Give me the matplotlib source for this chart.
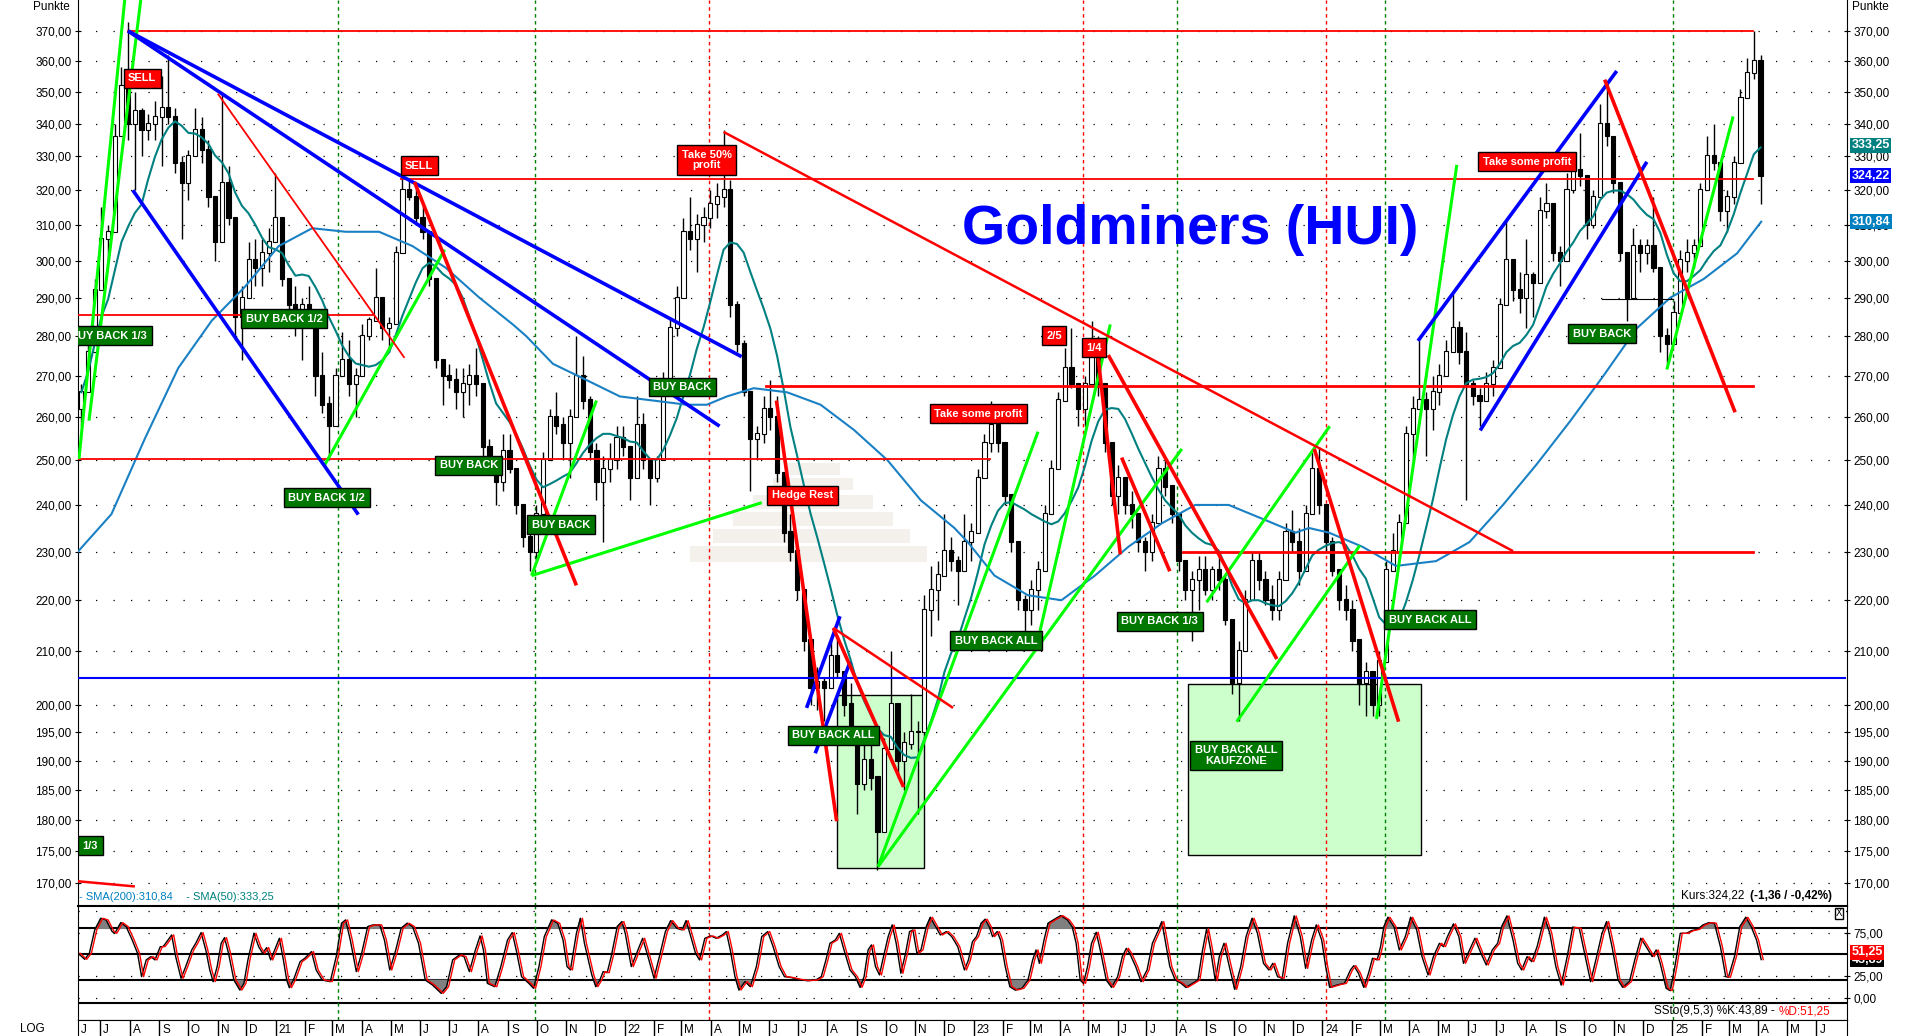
import matplotlib
matplotlib.use("Agg")
import matplotlib.pyplot as plt
import matplotlib.ticker as mticker
from matplotlib.patches import Rectangle
import numpy as np
import pandas as pd

plt.rcParams['font.family'] = ['Liberation Sans', 'DejaVu Sans']

# ---------------- data (weekly bars, week 0 = 2020-06-08) ----------------
high = [268, 278, 295, 315, 310, 340, 358, 373, 350, 345,
        343, 347, 355, 362, 345, 330, 332, 345, 342, 335,
        318, 350, 327, 306, 293, 305, 306, 306, 309, 325,
        309, 293, 293, 290, 293, 281, 276, 265, 272, 281,
        279, 272, 283, 285, 298, 290, 285, 304, 324, 323,
        321, 316, 306, 281, 272, 273, 272, 272, 273, 277,
        268, 255, 248, 256, 256, 248, 240, 235, 240, 252,
        262, 266, 260, 262, 280, 275, 265, 254, 251, 254,
        258, 258, 251, 265, 261, 250, 251, 271, 285, 293,
        312, 318, 313, 315, 320, 322, 338, 323, 289, 279,
        260, 258, 265, 269, 265, 246, 238, 230, 221, 209,
        207, 205, 212, 213, 206, 204, 193, 195, 195, 187,
        194, 210, 196, 195, 202, 197, 221, 227, 228, 238,
        233, 229, 238, 236, 248, 256, 264, 262, 250, 240,
        230, 221, 224, 228, 240, 250, 266, 277, 282, 266,
        270, 284, 280, 268, 254, 249, 246, 243, 238, 233,
        238, 251, 250, 244, 234, 228, 226, 229, 229, 227,
        229, 225, 215, 212, 222, 230, 230, 226, 223, 226,
        236, 239, 235, 240, 252, 253, 240, 233, 226, 223,
        220, 212, 208, 205, 210, 228, 234, 238, 258, 265,
        279, 266, 270, 273, 279, 291, 284, 281, 269, 267,
        271, 274, 290, 311, 300, 297, 306, 297, 318, 322,
        310, 304, 325, 329, 337, 320, 320, 346, 353, 335,
        312, 294, 309, 306, 306, 318, 290, 282, 289, 303,
        306, 306, 322, 336, 340, 325, 320, 330, 351, 361,
        370, 362]
low = [258, 270, 285, 303, 300, 325, 343, 335, 320, 330,
       335, 335, 327, 340, 325, 306, 317, 332, 328, 315,
       300, 320, 310, 279, 274, 292, 293, 293, 297, 311,
       293, 284, 280, 274, 284, 265, 261, 250, 262, 273,
       265, 260, 273, 279, 288, 279, 276, 293, 309, 317,
       310, 306, 293, 272, 263, 267, 262, 260, 263, 265,
       250, 248, 240, 243, 247, 238, 231, 226, 228, 240,
       250, 256, 250, 246, 265, 262, 250, 241, 232, 245,
       248, 251, 241, 250, 248, 240, 245, 255, 270, 280,
       298, 303, 297, 305, 309, 312, 315, 285, 276, 265,
       243, 250, 254, 257, 245, 232, 228, 220, 210, 200,
       199, 197, 203, 205, 198, 193, 181, 185, 185, 172,
       180, 198, 187, 185, 192, 181, 205, 213, 216, 226,
       226, 219, 228, 228, 236, 246, 252, 252, 240, 230,
       218, 214, 215, 218, 228, 238, 250, 265, 267, 258,
       258, 270, 265, 252, 240, 238, 238, 235, 230, 226,
       228, 240, 242, 236, 226, 220, 212, 218, 221, 220,
       222, 215, 202, 197, 210, 220, 222, 219, 216, 216,
       228, 230, 223, 228, 240, 238, 230, 225, 218, 216,
       210, 200, 198, 198, 198, 215, 226, 228, 240, 250,
       262, 251, 257, 263, 270, 279, 273, 241, 263, 258,
       264, 265, 278, 297, 289, 286, 282, 285, 302, 312,
       300, 293, 312, 319, 321, 306, 309, 325, 333, 319,
       300, 284, 297, 297, 299, 297, 276, 273, 280, 290,
       297, 298, 311, 325, 326, 311, 308, 316, 333, 348,
       354, 316]
close = [266, 276, 292, 306, 308, 336, 352, 340, 344, 338,
         340, 342, 345, 342, 328, 322, 330, 338, 332, 318,
         305, 322, 312, 285, 290, 300, 298, 302, 305, 312,
         295, 288, 284, 288, 286, 270, 263, 258, 270, 274,
         268, 270, 280, 284, 290, 282, 283, 302, 320, 318,
         312, 308, 295, 274, 270, 269, 266, 268, 270, 268,
         253, 250, 245, 252, 248, 240, 233, 230, 238, 250,
         260, 258, 254, 260, 270, 264, 252, 245, 248, 250,
         255, 253, 246, 258, 250, 246, 250, 268, 282, 290,
         308, 306, 310, 312, 316, 318, 320, 288, 278, 266,
         255, 256, 262, 260, 247, 234, 230, 222, 212, 203,
         204, 203, 209, 206, 200, 194, 186, 190, 187, 178,
         192, 200, 190, 193, 195, 195, 218, 222, 225, 230,
         228, 226, 232, 234, 246, 254, 258, 254, 242, 232,
         220, 218, 222, 226, 238, 248, 264, 272, 268, 262,
         268, 276, 268, 254, 242, 246, 240, 238, 232, 230,
         236, 248, 244, 238, 228, 222, 224, 226, 222, 226,
         224, 216, 204, 210, 220, 228, 224, 220, 218, 224,
         234, 232, 226, 238, 248, 240, 232, 226, 220, 218,
         212, 204, 206, 200, 208, 226, 230, 236, 256, 262,
         264, 262, 266, 270, 276, 282, 276, 268, 265, 264,
         268, 272, 288, 300, 292, 290, 296, 294, 314, 316,
         302, 300, 320, 326, 324, 310, 318, 340, 336, 322,
         302, 290, 304, 302, 304, 298, 280, 278, 286, 300,
         302, 304, 320, 330, 328, 314, 318, 328, 348, 356,
         360, 324.22]
first_open = 262

# SMA(200): (week, value)
sma200_pts = [(0, 230), (5, 238), (10, 255), (15, 272), (20, 284), (25, 293), (30, 304),
              (35, 309), (40, 308), (45, 308), (50, 304), (55, 298), (60, 290), (65, 283),
              (67, 280), (71, 273), (76, 269), (81, 265), (86, 264), (91, 263), (94, 263),
              (97, 265), (101, 267), (106, 266), (111, 263), (116, 257), (121, 250), (126, 241),
              (131, 235), (133, 232), (137, 225), (142, 221), (147, 220), (149, 222), (152, 225),
              (157, 231), (162, 236), (167, 240), (172, 240), (177, 237), (182, 234), (184, 235),
              (187, 234), (192, 231), (197, 227), (203, 228), (208, 232), (213, 240), (218, 249),
              (223, 259), (228, 270), (233, 282), (238, 290), (243, 295), (248, 302), (251.6, 310.84)]

# Slow stochastic %K: (week, value)
sto_pts = [(0.0, 51.2), (1.0, 44.2), (1.7, 51.2), (2.5, 78.1), (3.4, 91.5), (4.2, 89.6), (5.1, 76.2),
           (5.5, 74.2), (6.4, 86.5), (7.2, 81.9), (8.1, 66.5), (8.9, 51.2), (9.5, 24.2), (10.2, 43.5),
           (10.9, 47.3), (11.5, 43.5), (12.3, 58.8), (12.7, 58.8), (13.1, 62.7), (14.0, 72.3),
           (14.6, 47.3), (15.4, 22.3), (16.1, 35.8), (17.0, 55.0), (17.6, 62.7), (18.4, 75.0),
           (19.1, 55.0), (19.7, 31.9), (20.2, 18.5), (20.8, 35.8), (21.4, 62.7), (21.9, 69.2),
           (22.5, 51.2), (23.3, 20.4), (24.2, 8.8), (24.8, 16.5), (25.4, 43.5), (26.3, 74.2),
           (27.0, 58.8), (27.6, 51.2), (28.2, 57.7), (28.8, 43.5), (29.4, 55.0), (30.1, 68.5),
           (30.7, 43.5), (31.2, 20.4), (31.6, 11.5), (32.2, 20.4), (33.2, 41.5), (33.9, 45.4),
           (34.9, 53.1), (35.6, 31.9), (36.5, 20.4), (37.7, 18.5), (38.6, 47.3), (39.4, 85.8),
           (40.0, 89.6), (40.7, 66.5), (41.6, 30.0), (42.4, 51.2), (43.3, 81.9), (44.1, 83.8),
           (45.1, 83.8), (45.8, 66.5), (46.6, 31.9), (47.5, 55.0), (48.3, 80.0), (49.2, 85.8),
           (50.0, 81.9), (50.9, 62.7), (51.9, 20.4), (53.0, 14.6), (54.3, 5.0), (55.1, 12.7),
           (56.0, 43.5), (57.0, 49.2), (57.7, 47.3), (58.5, 30.0), (59.4, 55.0), (60.1, 71.2),
           (60.6, 55.0), (61.2, 16.5), (62.3, 12.7), (63.2, 35.8), (64.2, 66.5), (64.9, 75.0),
           (65.5, 55.0), (66.3, 24.2), (67.4, 16.5), (68.1, 10.8), (68.9, 35.8), (69.7, 70.4),
           (70.8, 89.6), (71.7, 85.8), (72.5, 66.5), (73.1, 35.8), (73.6, 31.9), (74.5, 74.2),
           (75.1, 91.5), (75.7, 62.7), (76.8, 26.2), (77.4, 12.7), (78.0, 20.4), (78.5, 30.0),
           (79.1, 28.8), (79.7, 47.3), (80.6, 81.9), (81.3, 87.7), (81.8, 74.2), (82.7, 35.8),
           (83.5, 51.2), (84.4, 68.5), (85.2, 47.3), (86.1, 22.3), (86.9, 47.3), (87.8, 76.2),
           (88.6, 88.8), (89.5, 80.0), (90.3, 78.1), (90.9, 88.8), (91.6, 70.4), (92.3, 51.2),
           (92.9, 43.5), (93.7, 68.5), (94.6, 71.2), (95.4, 68.5), (96.3, 72.3), (96.9, 76.2),
           (97.5, 55.0), (98.2, 24.2), (98.8, 8.8), (99.7, 18.5), (100.5, 12.7), (101.4, 35.8),
           (102.2, 70.4), (103.1, 76.2), (103.9, 58.8), (104.8, 35.8), (105.6, 24.2), (106.4, 23.5),
           (107.7, 21.2), (109.0, 19.6), (110.3, 20.4), (111.1, 24.2), (111.8, 43.5), (112.4, 62.7),
           (113.2, 66.5), (113.8, 74.2), (114.5, 55.0), (115.4, 31.9), (116.2, 24.2), (116.9, 11.9),
           (117.5, 24.2), (118.1, 55.0), (118.6, 60.8), (119.2, 35.8), (119.8, 26.2), (120.4, 47.3),
           (121.1, 70.4), (121.7, 83.8), (122.3, 62.7), (123.0, 28.1), (123.7, 51.2), (124.3, 76.2),
           (124.8, 78.1), (125.4, 51.2), (126.0, 55.0), (126.8, 81.9), (127.4, 92.7), (128.2, 81.9),
           (128.9, 72.3), (129.8, 76.2), (130.6, 70.4), (131.5, 58.8), (132.5, 31.9), (133.1, 43.5),
           (133.7, 64.6), (134.3, 70.4), (135.0, 85.8), (135.6, 90.4), (136.2, 81.9), (136.7, 70.4),
           (137.4, 76.2), (137.9, 66.5), (138.6, 35.8), (139.3, 12.7), (140.1, 8.8), (141.1, 10.8),
           (142.0, 20.4), (142.7, 43.5), (143.2, 55.0), (143.7, 39.6), (144.4, 66.5), (145.0, 85.8),
           (145.8, 89.6), (146.9, 94.6), (147.9, 89.6), (148.6, 81.9), (149.2, 62.7), (149.8, 20.4),
           (150.3, 16.5), (150.9, 35.8), (151.5, 62.7), (152.2, 75.4), (152.8, 55.0), (153.7, 20.4),
           (154.5, 11.9), (155.4, 24.2), (156.1, 47.3), (156.7, 56.9), (157.2, 51.2), (158.1, 35.8),
           (158.9, 18.5), (159.8, 31.9), (160.6, 62.7), (161.5, 78.1), (162.0, 87.7), (162.5, 66.5),
           (163.2, 35.8), (164.0, 20.4), (164.9, 16.5), (165.6, 11.9), (166.6, 16.5), (167.4, 20.4),
           (168.1, 55.0), (168.7, 79.2), (169.3, 55.0), (170.0, 19.6), (170.6, 47.3), (171.3, 62.7),
           (172.1, 35.8), (172.9, 9.6), (173.8, 35.8), (174.6, 70.4), (175.5, 91.5), (176.3, 74.2),
           (177.2, 39.6), (178.0, 31.9), (178.6, 39.6), (179.3, 24.2), (180.0, 22.3), (180.8, 62.7),
           (181.8, 94.2), (182.7, 70.4), (183.5, 33.8), (184.4, 66.5), (185.1, 83.8), (185.9, 66.5),
           (186.5, 35.8), (187.1, 11.9), (188.2, 14.6), (189.3, 16.5), (190.2, 31.9), (190.7, 36.9),
           (191.4, 28.1), (192.2, 11.9), (192.9, 28.1), (193.5, 45.4), (194.2, 43.5), (194.7, 58.8),
           (195.2, 81.9), (195.8, 92.7), (196.7, 81.9), (197.5, 55.0), (198.4, 70.4), (199.2, 92.7),
           (200.1, 78.1), (200.9, 47.3), (201.8, 26.2), (202.6, 47.3), (203.5, 62.7), (204.1, 58.8),
           (204.7, 70.4), (205.6, 85.0), (206.4, 70.4), (207.1, 39.6), (208.0, 55.0), (208.8, 68.5),
           (209.7, 51.2), (210.5, 37.7), (211.4, 55.0), (212.2, 62.7), (212.8, 81.9), (213.6, 94.2),
           (214.5, 66.5), (215.2, 39.6), (215.8, 31.9), (216.6, 47.3), (217.3, 41.5), (218.1, 58.8),
           (219.2, 92.7), (220.0, 74.2), (220.9, 35.8), (221.7, 14.6), (222.6, 47.3), (223.4, 81.2),
           (224.4, 80.0), (225.3, 47.3), (226.1, 18.5), (227.0, 47.3), (227.8, 74.2), (228.5, 87.7),
           (229.3, 58.8), (230.2, 20.4), (230.9, 11.9), (231.9, 18.5), (232.7, 43.5), (233.6, 68.5),
           (234.4, 58.8), (235.3, 47.3), (235.9, 55.0), (236.5, 39.6), (237.4, 10.8), (238.0, 8.1),
           (238.7, 35.8), (239.5, 74.2), (240.4, 74.2), (241.2, 77.3), (242.1, 78.8), (242.9, 83.8),
           (243.8, 86.5), (244.6, 85.8), (245.5, 58.8), (246.3, 24.2), (246.7, 23.5), (247.6, 47.3),
           (248.4, 81.9), (249.3, 92.7), (250.1, 81.9), (250.9, 66.5), (251.6, 43.89)]

# horizontal levels: (price, from week, to week)
red_levels_thin = [(370, 7.5, 250.4), (323.2, 48.3, 250.4), (285.5, 0, 44.1), (250.3, 0, 136.3)]
red_levels_thick = [(267.6, 102.8, 250.4), (230, 165.2, 250.4)]
blue_level = (205, 0, 264.1)
black_level = (289.6, 227.8, 238.4)

# trend lines: (week0, price0, week1, price1)
green_lines = [(0.15, 250.3, 7.0, 381), (1.64, 259.2, 9.4, 381), (36.9, 249, 54.8, 303),
               (67.8, 225, 77.5, 264), (67.8, 225, 102.2, 240.5), (119.6, 172.5, 143.5, 256.6),
               (119.6, 172.5, 165.0, 252.6), (143.8, 213.9, 154.3, 283), (168.7, 219.6, 187.1, 257.9),
               (173.2, 196.9, 191.6, 231.3), (194.1, 197.4, 206.1, 327.4), (237.5, 271.6, 247.4, 342.2)]
blue_lines = [(7.47, 370, 99.2, 274.8), (7.47, 370, 95.9, 257.9), (8.2, 319.9, 41.9, 237.9),
              (108.9, 199.4, 113.9, 216.8), (110.2, 191.3, 115.4, 207.9),
              (200.3, 278.8, 230.0, 356.7), (209.6, 256.9, 234.5, 328.3)]
red_thick = [(50.3, 322.3, 74.5, 223.0), (104.4, 264.0, 113.4, 179.8), (112.9, 214.5, 123.4, 185.5),
             (152.3, 277.3, 155.8, 229.4), (154.0, 275.2, 179.2, 208.5), (156.0, 250.6, 163.2, 225.9),
             (184.8, 252.6, 197.4, 196.9), (228.2, 353.9, 247.7, 261.2)]
red_mid = [(96.5, 337.4, 214.5, 230.1), (112.9, 214.5, 130.8, 199.4), (0, 170.2, 8.5, 169.4)]
red_thin = [(20.9, 349.4, 48.8, 274.5)]

# buy zones: (week0, week1, price low, price high)
zones = [(113.4, 126.5, 172.3, 201.8), (165.9, 200.7, 174.3, 203.8)]

# signal labels: (text, week, price)
red_tags = [("SELL", 9.6, 354.3), ("SELL", 51.0, 327.1), ("Take 50%\nprofit", 94.0, 328.9),
            ("Take some profit", 134.6, 260.8), ("Hedge Rest", 108.3, 242.1), ("2/5", 145.9, 280.1),
            ("1/4", 151.9, 277.1), ("Take some profit", 216.6, 328.4)]
green_tags = [("BUY BACK 1/3", 4.6, 280.1), ("BUY BACK 1/2", 30.8, 284.5), ("BUY BACK 1/2", 37.2, 241.6),
              ("BUY BACK", 58.4, 248.9), ("BUY BACK", 72.2, 235.7), ("BUY BACK", 90.3, 267.3),
              ("BUY BACK ALL", 112.9, 194.5), ("BUY BACK ALL", 137.2, 212.0), ("BUY BACK 1/3", 161.7, 215.8),
              ("BUY BACK ALL\nKAUFZONE", 173.1, 190.9), ("BUY BACK ALL", 202.1, 216.1),
              ("BUY BACK", 227.8, 280.6)]
edge_tags = [("1/3", 0.7, 175.8)]

# marker verticals: (week, colour)
vmarks = [(38.9, 'green'), (68.3, 'green'), (94.3, 'red'), (150.2, 'red'), (164.3, 'green'),
          (186.6, 'red'), (195.3, 'green'), (238.4, 'green')]

price_ticks = [170, 175, 180, 185, 190, 195, 200, 210, 220, 230, 240, 250, 260, 270, 280,
               290, 300, 310, 320, 330, 340, 350, 360, 370]

# ---------------- figure layout ----------------
W, H = 1906, 1036
fig = plt.figure(figsize=(W / 100, H / 100), dpi=100)
def fx(px): return px / W
def fy(py): return 1 - py / H

L, R = 78, 1847
ax = fig.add_axes([fx(L), fy(906), fx(R) - fx(L), 906 / H])
ax2 = fig.add_axes([fx(L), fy(1020), fx(R) - fx(L), 114 / H], sharex=ax)
ax3 = fig.add_axes([fx(L), 0, fx(R) - fx(L), 16 / H], sharex=ax)
XMAX = (R - L) / 6.69

comma = mticker.FuncFormatter(lambda v, _: f"{v:.2f}".replace('.', ','))

# ---------------- price panel ----------------
ax.set_yscale('log')
ax.set_ylim(166.4, 380.6)
ax.set_xlim(0, XMAX)
ax.yaxis.set_major_locator(mticker.FixedLocator(price_ticks))
ax.yaxis.set_minor_locator(mticker.NullLocator())
ax.yaxis.set_major_formatter(comma)
ax.tick_params(axis='y', which='both', left=True, right=True, labelleft=True, labelright=True,
               direction='inout', length=5, labelsize=8.5, pad=2)
ax.tick_params(axis='x', bottom=False, labelbottom=False)
ax.spines['top'].set_visible(False)
for v in price_ticks:
    ax.axhline(v, color='black', lw=0.9, ls=(0, (1, 13)), zorder=0.5)

# faint logo watermark behind the price bars (axes fraction)
for x0, x1, y0, y1 in [(787, 840, 463, 475), (773, 853, 478, 490), (753, 873, 495, 509),
                       (733, 893, 512, 526), (713, 910, 529, 543), (690, 927, 546, 562)]:
    ax.add_patch(Rectangle(((x0 - L) / (R - L), (906 - y1) / 906), (x1 - x0) / (R - L), (y1 - y0) / 906,
                           transform=ax.transAxes, fc='#f4f1ec', ec='none', zorder=0.7))

for w0, w1, p0, p1 in zones:
    ax.add_patch(Rectangle((w0, p0), w1 - w0, p1 - p0, fc='#ccffcc', ec='black', lw=1, zorder=1))

for w, c in vmarks:
    ax.axvline(w, color=c, lw=1, ls=(0, (2.5, 2.5)), zorder=1.5)
    ax2.axvline(w, color=c, lw=1, ls=(0, (2.5, 2.5)), zorder=1.5)

# candles
n = len(close)
xs = np.arange(n) + 0.5
opens = np.array([first_open] + close[:-1], dtype=float)
cl = np.array(close, dtype=float)
hi = np.maximum(np.array(high, dtype=float), np.maximum(opens, cl))
lo = np.minimum(np.array(low, dtype=float), np.minimum(opens, cl))
ax.vlines(xs, lo, hi, color='black', lw=1, zorder=3)
up = cl >= opens
ax.bar(xs[up], np.abs(cl - opens)[up] + 0.3, bottom=opens[up], width=0.62,
       color='white', edgecolor='black', lw=0.8, zorder=3.2)
ax.bar(xs[~up], np.abs(cl - opens)[~up] + 0.3, bottom=cl[~up], width=0.62,
       color='black', edgecolor='black', lw=0.8, zorder=3.2)

# moving averages
sma50 = pd.Series(cl).rolling(10, min_periods=1).mean()
ax.plot(xs, sma50, color='#008080', lw=1.5, zorder=4)
ax.plot([p[0] for p in sma200_pts], [p[1] for p in sma200_pts], color='#1a80c4', lw=1.5, zorder=4)

# levels
for p, w0, w1 in red_levels_thin:
    ax.plot([w0, w1], [p, p], color='#ff0000', lw=1.3, zorder=5)
for p, w0, w1 in red_levels_thick:
    ax.plot([w0, w1], [p, p], color='#ff0000', lw=2.0, zorder=5)
ax.plot(blue_level[1:], [blue_level[0]] * 2, color='#0000ff', lw=1.5, zorder=5)
ax.plot(black_level[1:], [black_level[0]] * 2, color='black', lw=0.8, zorder=5)

def seg(lines, color, lw):
    for w0, p0, w1, p1 in lines:
        ax.plot([w0, w1], [p0, p1], color=color, lw=lw, zorder=5.5, solid_capstyle='butt')

seg(green_lines, '#00ff00', 2.2)
seg(blue_lines, '#0000ff', 2.6)
seg(red_thick, '#ff0000', 2.6)
seg(red_mid, '#ff0000', 1.8)
seg(red_thin, '#ff0000', 1.3)

def tag(s, w, p, fc, ha='center'):
    ax.text(w, p, s, ha=ha, va='center', color='white', fontsize=8, fontweight='bold',
            linespacing=1.05, zorder=7, clip_on=True,
            bbox=dict(boxstyle='square,pad=0.4', fc=fc, ec='black', lw=1))

for s, w, p in red_tags:
    tag(s, w, p, '#ff0000')
for s, w, p in green_tags:
    tag(s, w, p, '#007800')
for s, w, p in edge_tags:
    tag(s, w, p, '#007800', ha='left')

ax.text(166.2, 308.5, "Goldminers (HUI)", color='#0000ff', fontsize=40, fontweight='bold',
        ha='center', va='center', zorder=6)

# last-value boxes on right axis
for val, txt, col in [(333.25, "333,25", '#008080'), (324.22, "324,22", '#0000ff'),
                      (310.84, "310,84", '#0080c0')]:
    ax.text(1.0026, val, txt, transform=ax.get_yaxis_transform(), ha='left', va='center',
            color='white', fontsize=9, fontweight='bold', zorder=9,
            bbox=dict(boxstyle='square,pad=0.12', fc=col, ec='none'))

# ---------------- stochastic panel ----------------
sw = np.array([p[0] for p in sto_pts])
sk = np.array([p[1] for p in sto_pts])
ax2.set_ylim(-25.8, 105.7)
for v in (20, 50, 80):
    ax2.axhline(v, color='black', lw=1.5, zorder=1)
for v in (0, 25, 75, 100):
    ax2.axhline(v, color='black', lw=0.9, ls=(0, (1, 13)), zorder=0.5)
ax2.axhline(-5.7, color='black', lw=1.5, zorder=1)
ax2.fill_between(sw, sk, 80, where=sk >= 80, interpolate=True, color='#808080', zorder=2)
ax2.fill_between(sw, sk, 20, where=sk <= 20, interpolate=True, color='#808080', zorder=2)
ax2.plot(sw, sk, color='black', lw=1, zorder=3)
ax2.plot(sw + 0.3, sk, color='#ff0000', lw=1, zorder=3.1)
ax2.set_yticks([0, 25, 75])
ax2.yaxis.set_major_formatter(comma)
ax2.tick_params(axis='y', left=False, labelleft=False, right=True, labelright=True,
                direction='inout', length=5, labelsize=8.5, pad=2)
ax2.tick_params(axis='x', bottom=False, labelbottom=False)
ax2.spines['top'].set_linewidth(1.5)
ax2.text(1.0026, 43.89, "43,89", transform=ax2.get_yaxis_transform(), ha='left', va='center',
         color='white', fontsize=9, fontweight='bold', zorder=8,
         bbox=dict(boxstyle='square,pad=0.12', fc='black', ec='none'))
ax2.text(1.0026, 52.5, "51,25", transform=ax2.get_yaxis_transform(), ha='left', va='center',
         color='white', fontsize=9, fontweight='bold', zorder=9,
         bbox=dict(boxstyle='square,pad=0.12', fc='#ff0000', ec='none'))

# ---------------- month strip ----------------
ax3.set_ylim(0, 1)
ax3.tick_params(axis='both', bottom=False, left=False, labelbottom=False, labelleft=False)
ax3.spines['bottom'].set_visible(False)
start = pd.Timestamp('2020-06-08')
months = pd.date_range('2020-06-01', '2025-06-01', freq='MS')
letters = "JFMAMJJASOND"
for m in months:
    w = (m - start).days / 7
    if w > 0:
        ax3.axvline(w, color='black', lw=1)
    lab = f"{m.year % 100:02d}" if m.month == 1 else letters[m.month - 1]
    ax3.text(max(w, 0) + 0.45, 0.4, lab, ha='left', va='center', fontsize=8.5)

# ---------------- free texts ----------------
fig.text(fx(33), fy(7), "Punkte", fontsize=8.5, va='center')
fig.text(fx(1852), fy(7), "Punkte", fontsize=8.5, va='center')
fig.text(fx(20), fy(1029), "LOG", fontsize=8.5, va='center')
fig.text(fx(79), fy(897), "- SMA(200):310,84", color='#0080c0', fontsize=8, va='center')
fig.text(fx(183), fy(897), " - SMA(50):333,25", color='#008080', fontsize=8, va='center')
fig.text(fx(1748), fy(896), "Kurs:324,22 ", fontsize=8.5, va='center', ha='right')
fig.text(fx(1832), fy(896), "(-1,36 / -0,42%)", fontsize=8.5, fontweight='bold', va='center', ha='right')
fig.text(fx(1778), fy(1011), "SSto(9,5,3) %K:43,89 - ", fontsize=8.5, va='center', ha='right')
fig.text(fx(1779), fy(1011), "%D:51,25", color='#ff0000', fontsize=8.5, va='center', ha='left')
fig.text(fx(1839), fy(913.5), "X", fontsize=7, ha='center', va='center',
         bbox=dict(boxstyle='square,pad=0.1', fc='white', ec='black', lw=1))

fig.savefig("out.png", dpi=100)
